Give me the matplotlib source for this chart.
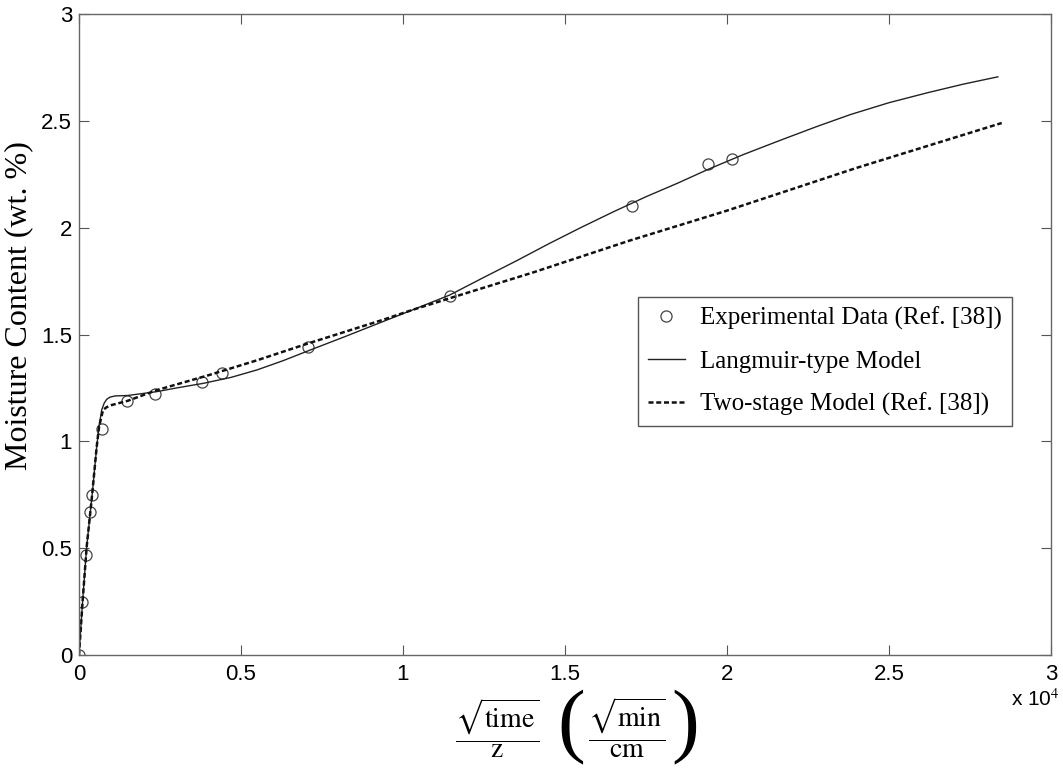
import numpy as np
import matplotlib
matplotlib.use('Agg')
import matplotlib.pyplot as plt

plt.rcParams['mathtext.fontset'] = 'stix'
plt.rcParams['font.family'] = ['Liberation Sans', 'DejaVu Sans']

# Experimental data (Ref. [38])
exp_x = [0, 93, 216, 340, 400, 711, 1485, 2350, 3800, 4420, 7080, 11440, 17070, 19420, 20160]
exp_y = [0, 0.25, 0.47, 0.67, 0.75, 1.06, 1.19, 1.22, 1.28, 1.32, 1.44, 1.68, 2.10, 2.30, 2.32]

# Langmuir-type model
lang_x = [0, 114, 237, 411, 546, 618, 700, 780, 855, 950, 1112, 1500, 2400, 3000,
          3840, 4700, 5500, 6300, 7140, 8200, 9300, 10320, 11440, 12500, 13500,
          14500, 15480, 16500, 17500, 18500, 19400, 20500, 21660, 22800, 23820,
          25000, 26200, 27300, 28360]
lang_y = [0, 0.257, 0.506, 0.758, 0.974, 1.067, 1.147, 1.180, 1.197, 1.207, 1.213, 1.215,
          1.233, 1.25, 1.272, 1.30, 1.335, 1.378, 1.428, 1.49, 1.556, 1.617, 1.685, 1.768,
          1.845, 1.925, 2.0, 2.075, 2.145, 2.21, 2.272, 2.342, 2.41, 2.475, 2.53, 2.585,
          2.632, 2.672, 2.706]

# Two-stage model (Ref. [38])
two_x = [0, 114, 237, 411, 546, 618, 700, 741, 850, 1000, 1500, 2400, 4000, 5500,
         7100, 9400, 10320, 11440, 14000, 17000, 20000, 24000, 28480]
two_y = [0, 0.257, 0.506, 0.758, 0.974, 1.067, 1.12, 1.147, 1.16, 1.17, 1.19, 1.24,
         1.31, 1.38, 1.46, 1.57, 1.617, 1.67, 1.79, 1.94, 2.08, 2.28, 2.49]

fig = plt.figure(figsize=(10.63, 7.69), dpi=100)
ax = fig.add_axes([0.0743, 0.148, 0.9144, 0.8338])

ax.plot(exp_x, exp_y, 'o', mfc='none', mec='#444444', ms=8, mew=0.9,
        label='Experimental Data (Ref. [38])')
ax.plot(lang_x, lang_y, '-', color='#222222', lw=1.0, label='Langmuir-type Model')
ax.plot(two_x, two_y, '--', color='#111111', lw=1.8, dashes=(2.0, 1.1),
        label='Two-stage Model (Ref. [38])')

ax.set_xlim(0, 30000)
ax.set_ylim(0, 3)
ax.set_xticks([0, 5000, 10000, 15000, 20000, 25000, 30000])
ax.set_xticklabels(['0', '0.5', '1', '1.5', '2', '2.5', '3'])
ax.set_yticks([0, 0.5, 1, 1.5, 2, 2.5, 3])
ax.set_yticklabels(['0', '0.5', '1', '1.5', '2', '2.5', '3'])
ax.tick_params(direction='in', top=True, right=True, length=7, width=0.8,
               color='#555555', labelsize=16, pad=6)
ax.tick_params(axis='y', pad=5)
for s in ax.spines.values():
    s.set_color('#666666')
    s.set_linewidth(1.0)

ax.set_ylabel('Moisture Content (wt. %)', family='Liberation Serif', fontsize=23)
ax.yaxis.set_label_coords(-0.047, 0.546)

# x label built from pieces so the brackets can be large
fig.text(0.4675, 0.053, r'$\dfrac{\sqrt{\mathrm{time}}}{\mathrm{z}}$', fontsize=20,
         ha='center', va='center')
fig.text(0.5375, 0.054, '(', family='Liberation Serif', fontsize=60,
         ha='center', va='center')
fig.text(0.590, 0.053, r'$\dfrac{\sqrt{\mathrm{min}}}{\mathrm{cm}}$', fontsize=20,
         ha='center', va='center')
fig.text(0.645, 0.054, ')', family='Liberation Serif', fontsize=60,
         ha='center', va='center')
fig.text(0.997, 0.1053, r'x 10$^4$', fontsize=15, ha='right', va='top')

leg = ax.legend(loc='upper right', bbox_to_anchor=(0.96, 0.5585),
                prop={'family': 'Liberation Serif', 'size': 18},
                handlelength=1.5, handletextpad=0.6, labelspacing=0.8,
                borderpad=0.4, borderaxespad=0, fancybox=False, framealpha=1)
leg.get_frame().set_edgecolor('#555555')
leg.get_frame().set_linewidth(1.0)

fig.savefig('out.png', dpi=100)
